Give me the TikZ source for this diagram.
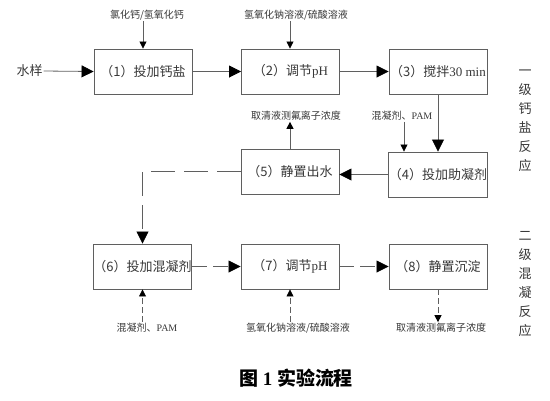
\documentclass[tikz,border=0pt]{standalone}
\usepackage{fontspec}
\setmainfont{Liberation Serif}
\newfontfamily\cjk{Noto Sans CJK SC}
\usetikzlibrary{arrows.meta}
\definecolor{linegray}{RGB}{95,95,95}
\definecolor{txtgray}{RGB}{55,55,55}
\begin{document}
\begin{tikzpicture}[x=1pt,y=-1pt,
  box/.style={draw=linegray, line width=0.9pt, minimum width=98pt, minimum height=45pt, inner sep=0pt, font=\fontsize{13}{15}\selectfont, text=txtgray},
  lbl/.style={font=\fontsize{10}{12}\selectfont, text=txtgray, inner sep=1pt},
  vlbl/.style={font=\cjk\fontsize{13}{19}\selectfont, text=txtgray, align=center, inner sep=0pt},
  conn/.style={draw=linegray, line width=0.8pt},
  big/.style={-{Triangle[length=12pt,width=12pt,color=black]}},
  small/.style={-{Triangle[length=7pt,width=7pt,color=black]}},
  dlong/.style={dash pattern=on 24pt off 9pt},
  dmid/.style={dash pattern=on 15pt off 6pt},
  dshort/.style={dash pattern=on 6pt off 3pt}]
\useasboundingbox (0,0) rectangle (550,400);
% boxes
\node[box] (b1) at (143,71.5) {\cjk （1）投加钙盐};
\node[box] (b2) at (290.5,71.5) {{\cjk （2）调节}pH};
\node[box] (b3) at (438,71.5) {{\cjk （3）搅拌}30 min};
\node[box] (b4) at (438,174.5) {\cjk （4）投加助凝剂};
\node[box] (b5) at (290,171.5) {\cjk （5）静置出水};
\node[box] (b6) at (142.5,266.5) {\cjk （6）投加混凝剂};
\node[box] (b7) at (290,266.5) {{\cjk （7）调节}pH};
\node[box] (b8) at (438,266.5) {\cjk （8）静置沉淀};
% labels
\node[font=\fontsize{13}{15}\selectfont, text=txtgray, inner sep=1pt] (w) at (29.5,71) {\cjk 水样};
\node[lbl] (t1) at (147,15) {\cjk 氯化钙/氢氧化钙};
\node[lbl] (t2) at (296,15) {\cjk 氢氧化钠溶液/硫酸溶液};
\node[lbl] (t3) at (296,116) {\cjk 取清液测氟离子浓度};
\node[lbl] (t4) at (402,116) {{\cjk 混凝剂、}PAM};
\node[lbl] (t5) at (147,328) {{\cjk 混凝剂、}PAM};
\node[lbl] (t6) at (298,328) {\cjk 氢氧化钠溶液/硫酸溶液};
\node[lbl] (t7) at (441,328) {\cjk 取清液测氟离子浓度};
\node[vlbl] (v1) at (525,121) {一\\级\\钙\\盐\\反\\应};
\node[vlbl] (v2) at (525,284) {二\\级\\混\\凝\\反\\应};
\node[font=\fontsize{19}{21}\selectfont\bfseries, inner sep=0pt] (cap) at (296,378) {{\cjk\bfseries 图}~1~{\cjk\bfseries 实验流程}};
% connectors, first stage
\draw[conn,big] (w.east) -- (b1.west);
\draw[conn,big] (b1.east) -- (b2.west);
\draw[conn,big] (b2.east) -- (b3.west);
\draw[conn,small] (b1.north |- t1.south) -- (b1.north);
\draw[conn,small] ([xshift=-0.5pt]b2.north |- t2.south) -- ([xshift=-0.5pt]b2.north);
\draw[conn,big] (b3.south) -- (b4.north);
\coordinate (c4) at (404,0);
\draw[conn,small] (c4 |- t4.south) -- (c4 |- b4.north);
\draw[conn,big] (b4.west) -- (b4.west -| b5.east);
\draw[conn,small] (b5.north) -- (b5.north |- t3.south);
% second stage
\draw[conn,big,dlong] (b5.west) -| (b6.north);
\draw[conn,big,dmid] (b6.east) -- (b7.west);
\draw[conn,big,dmid] (b7.east) -- (b8.west);
\draw[conn,small,dshort] (b6.south |- t5.north) -- (b6.south);
\draw[conn,small,dshort] (b7.south |- t6.north) -- (b7.south);
\draw[conn,small,dshort] (b8.south) -- (b8.south |- t7.north);
\end{tikzpicture}
\end{document}
